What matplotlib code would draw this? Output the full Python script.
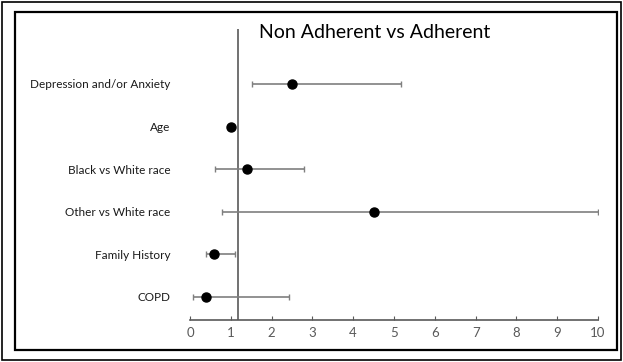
import matplotlib
matplotlib.use('Agg')
import matplotlib.pyplot as plt
from matplotlib.patches import Rectangle

# Odds ratios with 95% CI
factors = ['Depression and/or Anxiety', 'Age', 'Black vs White race',
           'Other vs White race', 'Family History', 'COPD']
odds = [2.5, 1.0, 1.4, 4.5, 0.6, 0.4]
ci_low = [1.52, 0.97, 0.61, 0.79, 0.40, 0.08]
ci_high = [5.17, 1.04, 2.8, 10.0, 1.10, 2.42]
ref_line = 1.18
xticks = list(range(0, 11))

plt.rcParams['font.family'] = ['Lato', 'DejaVu Sans']

fig = plt.figure(figsize=(6.23, 3.62), dpi=100)
ax = fig.add_axes([190 / 623, 42 / 362, 408 / 623, 291 / 362])

ypos = list(range(len(factors), 0, -1))
err = [[o - lo for o, lo in zip(odds, ci_low)],
       [hi - o for o, hi in zip(odds, ci_high)]]
ax.errorbar(odds, ypos, xerr=err, fmt='none', ecolor='#7f7f7f',
            elinewidth=1.2, capsize=2.5, capthick=1.0, zorder=2)
ax.plot(odds, ypos, 'o', color='black', markersize=6.5, zorder=3)

ax.axvline(ref_line, color='#595959', linewidth=1.2, zorder=1)

ax.set_xlim(0, 10)
ax.set_ylim(0.46, 7.29)
ax.set_xticks(xticks)
ax.set_yticks(ypos)
ax.set_yticklabels(factors, fontsize=8.5, color='#1a1a1a')
ax.tick_params(axis='y', length=0, pad=14)
ax.tick_params(axis='x', direction='in', length=3, color='#595959',
               labelsize=9.5, labelcolor='#595959', pad=5)
for side in ['left', 'right', 'top']:
    ax.spines[side].set_visible(False)
ax.spines['bottom'].set_color('#595959')
ax.spines['bottom'].set_linewidth(1.2)

fig.text(375 / 623, 1 - 32 / 362, 'Non Adherent vs Adherent', ha='center',
         va='center', fontsize=14, color='black')

# double frame around the figure
fig.patches.append(Rectangle((2 / 623, 2 / 362), 619 / 623, 358 / 362,
                             transform=fig.transFigure, fill=False,
                             edgecolor='black', linewidth=1.2))
fig.patches.append(Rectangle((15 / 623, 12 / 362), 602 / 623, 338 / 362,
                             transform=fig.transFigure, fill=False,
                             edgecolor='black', linewidth=1.6))

fig.savefig('out.png', dpi=100)
